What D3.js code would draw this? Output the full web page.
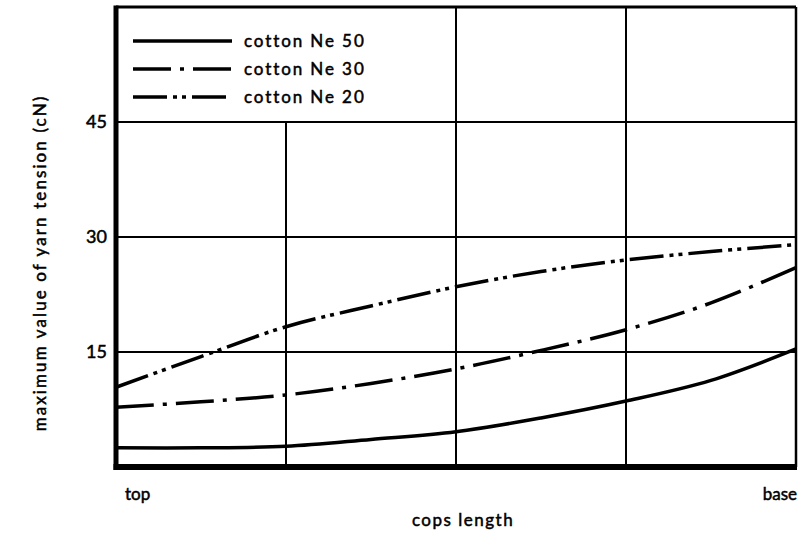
<!DOCTYPE html>
<html>
<head>
<meta charset="utf-8">
<script src="https://cdn.jsdelivr.net/npm/d3@7"></script>
<style>
  body { margin: 0; background: #fff; }
  text { font-family: Lato, "Open Sans", sans-serif; fill: #000; stroke: #000; stroke-width: 0.5px; }
</style>
</head>
<body>
<div id="chart"></div>
<script>
// cops position along the length (0 = top, 4 = base), in grid divisions
const positions = [0, 0.5, 1, 1.5, 2, 2.5, 3, 3.5, 4];
const ne50 = [2.5, 2.5, 2.7, 3.6, 4.6, 6.4, 8.6, 11.3, 15.4];
const ne30 = [7.8, 8.5, 9.4, 10.9, 12.8, 15.2, 17.9, 21.4, 26.0];
const ne20 = [10.4, 14.4, 18.3, 21.0, 23.5, 25.5, 27.0, 28.1, 29.0];
const seriesNames = ['cotton Ne 50', 'cotton Ne 30', 'cotton Ne 20'];
const yTicks = [15, 30, 45];
const xGrid = [1, 2, 3];

const size = { width: 803, height: 533 };
const margin = { left: 116, right: 7, top: 7, bottom: 66 };

const svg = d3.select('#chart').append('svg')
  .attr('width', size.width)
  .attr('height', size.height);

const x = d3.scaleLinear().domain([0, 4]).range([margin.left, size.width - margin.right]);
const y = d3.scaleLinear().domain([0, 60]).range([size.height - margin.bottom, margin.top]);

// grid
const grid = svg.append('g').attr('stroke', '#000').attr('stroke-width', 2);
grid.selectAll('line.h')
  .data(yTicks)
  .enter()
  .append('line')
  .attr('x1', x(0)).attr('x2', x(4))
  .attr('y1', (d) => y(d)).attr('y2', (d) => y(d));
grid.selectAll('line.v')
  .data(xGrid)
  .enter()
  .append('line')
  .attr('x1', (d) => x(d)).attr('x2', (d) => x(d))
  // first line stops under the legend
  .attr('y1', (d) => (d === 1 ? y(45) : y(60)))
  .attr('y2', y(0));

// frame
svg.append('line').attr('x1', x(0)).attr('x2', x(4)).attr('y1', y(60)).attr('y2', y(60))
  .attr('stroke', '#000').attr('stroke-width', 3);
svg.append('line').attr('x1', x(4)).attr('x2', x(4)).attr('y1', y(60)).attr('y2', y(0))
  .attr('stroke', '#000').attr('stroke-width', 2.5);
svg.append('line').attr('x1', x(0)).attr('x2', x(0)).attr('y1', y(60) - 1.5).attr('y2', y(0) + 3)
  .attr('stroke', '#000').attr('stroke-width', 5);
svg.append('line').attr('x1', x(0) - 2.5).attr('x2', x(4) + 1).attr('y1', y(0)).attr('y2', y(0))
  .attr('stroke', '#000').attr('stroke-width', 6);

// y tick labels
svg.append('g')
  .selectAll('text')
  .data(yTicks)
  .enter()
  .append('text')
  .attr('x', 107)
  .attr('y', (d) => y(d) + 6)
  .attr('text-anchor', 'end')
  .style('font-size', '18px')
  .text((d) => d);

// curves
const line = d3.line()
  .x((d) => x(d[0]))
  .y((d) => y(d[1]))
  .curve(d3.curveCatmullRom.alpha(0.5));

const dashes = ['none', '38 9 4 9', '34 6 4 5 4 6'];
const series = [ne50, ne30, ne20].map((vals, i) => ({
  name: seriesNames[i],
  dash: dashes[i],
  points: positions.map((p, j) => [p, vals[j]]),
}));

svg.append('g')
  .selectAll('path')
  .data(series)
  .enter()
  .append('path')
  .attr('d', (d) => line(d.points))
  .attr('fill', 'none')
  .attr('stroke', '#000')
  .attr('stroke-width', 3.5)
  .attr('stroke-dasharray', (d) => d.dash);

// legend
const legend = svg.append('g')
  .selectAll('g')
  .data(series)
  .enter()
  .append('g')
  .attr('transform', (d, i) => `translate(133, ${41 + i * 28})`);
legend.append('line')
  .attr('x1', 0).attr('x2', 99)
  .attr('stroke', '#000')
  .attr('stroke-width', 3.5)
  .attr('stroke-dasharray', (d) => d.dash);
legend.append('text')
  .attr('x', 111)
  .attr('y', 6)
  .style('font-size', '17px')
  .style('letter-spacing', '1.9px')
  .text((d) => d.name);

// axis labels
svg.append('text').attr('x', 125).attr('y', 500).style('font-size', '17px').text('top');
svg.append('text').attr('x', 797).attr('y', 500).attr('text-anchor', 'end')
  .style('font-size', '17px').text('base');
svg.append('text').attr('x', 463).attr('y', 526).attr('text-anchor', 'middle')
  .style('font-size', '17px').style('letter-spacing', '1.5px').text('cops length');
svg.append('text')
  .attr('transform', 'translate(46, 263) rotate(-90)')
  .attr('text-anchor', 'middle')
  .style('font-size', '17px')
  .style('letter-spacing', '2.1px')
  .text('maximum value of yarn tension (cN)');
</script>
</body>
</html>
